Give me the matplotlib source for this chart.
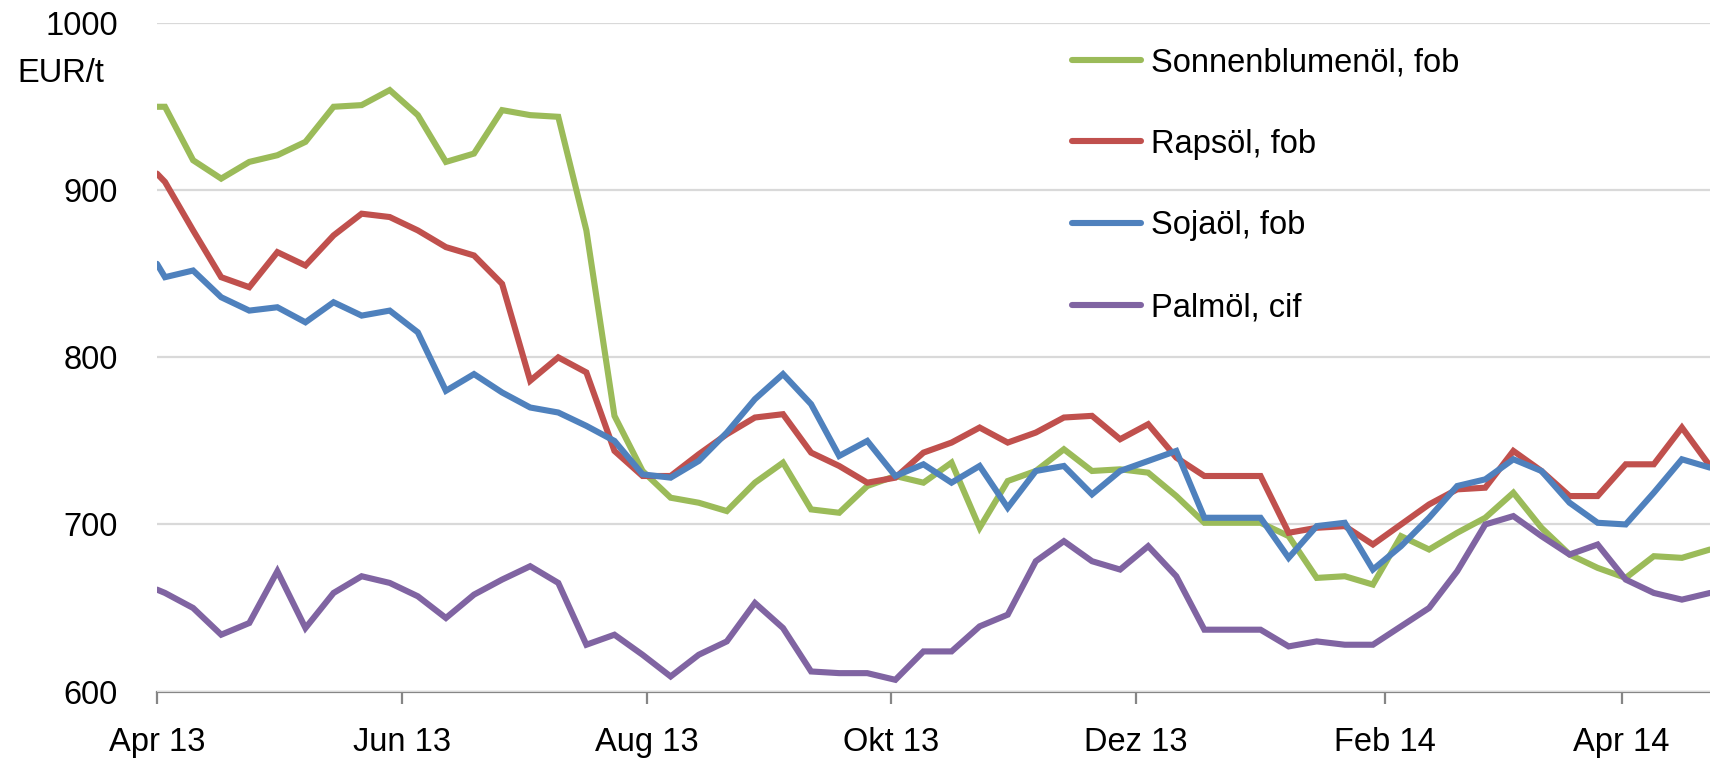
import matplotlib
matplotlib.use("Agg")
import matplotlib.pyplot as plt
import pandas as pd

plt.rcParams['font.family'] = ['Liberation Sans', 'DejaVu Sans']

# weekly quotes (Wednesdays), first entry is the value at the axis start
dates = pd.to_datetime(['2013-04-01']).append(pd.date_range('2013-04-03', periods=56, freq='7D'))

sonnenblume = [950, 950, 918, 907, 917, 921, 929, 950, 951, 960,
               945, 917, 922, 948, 945, 944, 876, 765, 732, 716,
               713, 708, 725, 737, 709, 707, 723, 729, 725, 737,
               698, 726, 732, 745, 732, 733, 731, 717, 701, 701,
               701, 693, 668, 669, 664, 693, 685, 695, 704, 719,
               698, 682, 674, 668, 681, 680, 685]
raps = [910, 905, 876, 848, 842, 863, 855, 873, 886, 884,
        876, 866, 861, 844, 786, 800, 791, 744, 729, 729,
        742, 754, 764, 766, 743, 735, 725, 728, 743, 749,
        758, 749, 755, 764, 765, 751, 760, 740, 729, 729,
        729, 695, 698, 699, 688, 700, 712, 721, 722, 744,
        732, 717, 717, 736, 736, 758, 735]
soja = [856, 848, 852, 836, 828, 830, 821, 833, 825, 828,
        815, 780, 790, 779, 770, 767, 759, 750, 730, 728,
        738, 755, 775, 790, 772, 741, 750, 729, 736, 725,
        735, 710, 732, 735, 718, 732, 738, 744, 704, 704,
        704, 680, 699, 701, 673, 687, 704, 723, 727, 739,
        732, 713, 701, 700, 719, 739, 734]
palm = [661, 659, 650, 634, 641, 672, 638, 659, 669, 665,
        657, 644, 658, 667, 675, 665, 628, 634, 622, 609,
        622, 630, 653, 638, 612, 611, 611, 607, 624, 624,
        639, 646, 678, 690, 678, 673, 687, 669, 637, 637,
        637, 627, 630, 628, 628, 639, 650, 672, 700, 705,
        693, 682, 688, 667, 659, 655, 659]

series = [
    ('Sonnenblumenöl, fob', sonnenblume, '#9BBB59'),
    ('Rapsöl, fob', raps, '#C0504D'),
    ('Sojaöl, fob', soja, '#4F81BD'),
    ('Palmöl, cif', palm, '#8064A2'),
]

tick_dates = pd.to_datetime(['2013-04-01', '2013-06-01', '2013-08-01', '2013-10-01',
                             '2013-12-01', '2014-02-01', '2014-04-01'])
tick_labels = ['Apr 13', 'Jun 13', 'Aug 13', 'Okt 13', 'Dez 13', 'Feb 14', 'Apr 14']

fig = plt.figure(figsize=(17.1, 7.62), dpi=100)
ax = fig.add_axes([0.0918, 0.0925, 0.9082, 0.877])

for name, vals, col in series:
    ax.plot(dates, vals, color=col, lw=4.4, label=name,
            solid_joinstyle='miter', solid_capstyle='round')

ax.set_xlim(pd.Timestamp('2013-04-01'), pd.Timestamp('2014-04-23'))
ax.set_ylim(600, 1000)
ax.set_yticks([600, 700, 800, 900, 1000])
ax.set_xticks(tick_dates)
ax.set_xticklabels(tick_labels)
ax.grid(axis='y', color='#D9D9D9', lw=1.6)
ax.set_axisbelow(True)

for s in ['left', 'right', 'top']:
    ax.spines[s].set_visible(False)
ax.spines['bottom'].set_color('#868686')
ax.spines['bottom'].set_linewidth(1.6)
ax.spines['bottom'].set_zorder(0.5)

ax.tick_params(axis='y', length=0, pad=28, labelsize=23.5)
ax.tick_params(axis='x', length=8.5, width=1.6, color='#868686', pad=17, labelsize=23.5)

fig.text(17 / 1710, 1 - 73 / 762, 'EUR/t', fontsize=23.5, va='center', ha='left')

ax.legend(loc='upper left', bbox_to_anchor=(0.627, 0.938), bbox_transform=fig.transFigure,
          frameon=False, fontsize=23.5, handlelength=2.1, handletextpad=0.3,
          labelspacing=1.55, borderpad=0, borderaxespad=0)

fig.savefig('out.png', dpi=100)
